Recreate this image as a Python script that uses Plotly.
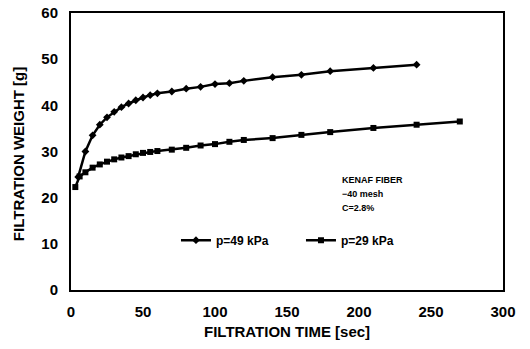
import plotly.graph_objects as go

t_49 = [5, 10, 15, 20, 25, 30, 35, 40, 45, 50, 55, 60, 70, 80, 90, 100, 110, 120, 140, 160, 180, 210, 240]
w_49 = [24.5, 30.0, 33.5, 35.8, 37.4, 38.6, 39.6, 40.4, 41.1, 41.7, 42.2, 42.6, 43.0, 43.6, 44.0, 44.6, 44.8, 45.3, 46.1, 46.6, 47.4, 48.1, 48.8]

t_29 = [3, 6, 10, 15, 20, 25, 30, 35, 40, 45, 50, 55, 60, 70, 80, 90, 100, 110, 120, 140, 160, 180, 210, 240, 270]
w_29 = [22.3, 24.6, 25.5, 26.5, 27.2, 27.8, 28.3, 28.7, 29.0, 29.4, 29.7, 29.9, 30.1, 30.4, 30.8, 31.3, 31.6, 32.1, 32.5, 32.9, 33.6, 34.2, 35.1, 35.8, 36.5]

x_ticks = [0, 50, 100, 150, 200, 250, 300]
y_ticks = [0, 10, 20, 30, 40, 50, 60]

note_lines = ["KENAF FIBER", "−40 mesh", "C=2.8%"]

FONT = "Liberation Sans"

fig = go.Figure()
fig.add_trace(go.Scatter(x=t_49, y=w_49, mode="lines+markers", name="p=49 kPa",
                         line=dict(color="black", width=2.5),
                         marker=dict(symbol="diamond", size=6, color="black")))
fig.add_trace(go.Scatter(x=t_29, y=w_29, mode="lines+markers", name="p=29 kPa",
                         line=dict(color="black", width=2.5),
                         marker=dict(symbol="square", size=6, color="black")))

for i, line in enumerate(note_lines):
    fig.add_annotation(x=0.623, y=0.397 - i * 0.0505, xref="paper", yref="paper",
                       xanchor="left", yanchor="middle",
                       text=line, showarrow=False, align="left",
                       font=dict(family=FONT, size=9, color="black", weight="bold"))

fig.add_annotation(x=0.5, y=-0.15, xref="paper", yref="paper", xanchor="center", yanchor="middle",
                   text="FILTRATION TIME [sec]", showarrow=False,
                   font=dict(family=FONT, size=15, color="black", weight="bold"))
fig.add_annotation(x=-0.123, y=0.49, xref="paper", yref="paper", xanchor="center", yanchor="middle",
                   text="FILTRATION WEIGHT [g]", showarrow=False, textangle=-90,
                   font=dict(family=FONT, size=15, color="black", weight="bold"))

fig.update_layout(
    width=530, height=349,
    margin=dict(l=71, r=27, t=13, b=59, autoexpand=False),
    paper_bgcolor="white", plot_bgcolor="white",
    showlegend=True,
    legend=dict(orientation="h", x=0.243, y=0.18, xanchor="left", yanchor="middle",
                itemwidth=30, entrywidth=80, entrywidthmode="pixels",
                bgcolor="rgba(0,0,0,0)",
                font=dict(family=FONT, size=12, color="black", weight="bold")),
    font=dict(family=FONT, color="black"),
)
fig.update_xaxes(range=[0, 300], tickvals=x_ticks, showgrid=False, zeroline=False,
                 showline=True, linecolor="black", linewidth=2, mirror=True, ticks="",
                 automargin=False, ticklabelstandoff=7,
                 tickfont=dict(family=FONT, size=15, weight="bold"))
fig.update_yaxes(range=[0, 60], tickvals=y_ticks, showgrid=False, zeroline=False,
                 showline=True, linecolor="black", linewidth=2, mirror=True, ticks="",
                 automargin=False, ticklabelstandoff=8,
                 tickfont=dict(family=FONT, size=15, weight="bold"))

# remove the default 8px page margin so the 530x349 figure fills the window exactly
fig.write_html("out.html", config={"displayModeBar": False},
               post_script="document.body.style.margin='0';")
